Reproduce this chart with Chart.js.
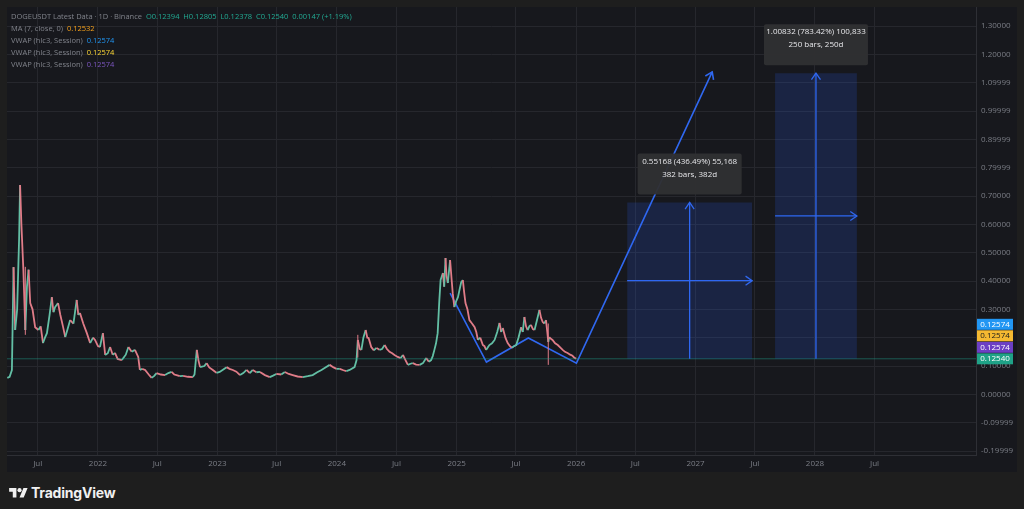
<!DOCTYPE html>
<html>
<head>
<meta charset="utf-8">
<script src="https://cdn.jsdelivr.net/npm/chart.js@4.4.1/dist/chart.umd.min.js"></script>
<style>
  html, body { margin: 0; padding: 0; width: 1024px; height: 509px; overflow: hidden; background: #1e1e1e; font-family: 'Open Sans', 'Noto Sans', sans-serif; }
  #panel { position: absolute; left: 7px; top: 7px; width: 1010px; height: 465px; background: #17181d; }
  #chart { position: absolute; left: 0; top: 0; }
  .legend { position: absolute; left: 4px; top: 3px; font-size: 7.5px; line-height: 12px; color: #80838b; white-space: nowrap; }
  .legend .g { color: #22ab94; }
  .legend .o { color: #f7a21b; }
  .legend .b { color: #2196f3; }
  .legend .y { color: #fdd835; }
  .legend .p { color: #7e57c2; }
  #brand { position: absolute; left: 9px; top: 484px; display: flex; align-items: center; color: #f0f0f0; font-family: 'Inter', 'Roboto', sans-serif; font-weight: 700; font-size: 14px; letter-spacing: -0.2px; }
  #brand svg { margin-right: 3px; }
</style>
</head>
<body>
<div id="panel">
  <canvas id="chart" width="1010" height="465"></canvas>
  <div class="legend">
    <div>DOGEUSDT Latest Data · 1D · Binance &nbsp;<span class="g">O0.12394 &nbsp;H0.12805 &nbsp;L0.12378 &nbsp;C0.12540 &nbsp;0.00147 (+1.19%)</span></div>
    <div>MA (7, close, 0) &nbsp;<span class="o">0.12532</span></div>
    <div>VWAP (hlc3, Session) &nbsp;<span class="b">0.12574</span></div>
    <div>VWAP (hlc3, Session) &nbsp;<span class="y">0.12574</span></div>
    <div>VWAP (hlc3, Session) &nbsp;<span class="p">0.12574</span></div>
  </div>
</div>
<div id="brand">
  <svg width="19" height="13" viewBox="0 0 36 25"><path d="M14 22H7V11H0V4h14v18zM28 22h-8l7.5-18h8L28 22z" fill="#f0f0f0"/><circle cx="20" cy="8" r="4" fill="#f0f0f0"/></svg>
  <span>TradingView</span>
</div>
<script>
// days counted from 2021-01-01
const priceDays = [88, 95, 102, 107, 112, 118, 124, 127, 131, 137, 143, 148, 153, 158, 165, 173, 183, 190, 197, 203,
  209, 217, 224, 229, 234, 243, 250, 258, 265, 272, 280, 290, 300, 305, 310, 320, 331, 341, 350, 356,
  365, 371, 380, 387, 395, 402, 410, 417, 425, 438, 450, 458, 468, 478, 488, 493, 500, 509, 520, 529,
  537, 544, 557, 570, 580, 590, 598, 605, 615, 625, 640, 655, 660, 667, 672, 677, 690, 697, 705, 716,
  727, 737, 748, 758, 767, 777, 788, 799, 809, 819, 829, 838, 849, 860, 875, 890, 900, 910, 925, 936,
  948, 960, 975, 991, 1006, 1021, 1035, 1048, 1060, 1073, 1085, 1094, 1104, 1115, 1124, 1134, 1149, 1155, 1159, 1165,
  1170, 1176, 1183, 1188, 1192, 1200, 1208, 1216, 1225, 1233, 1241, 1248, 1256, 1264, 1271, 1281, 1290, 1297, 1305, 1312,
  1320, 1327, 1337, 1348, 1358, 1368, 1376, 1383, 1388, 1393, 1398, 1403, 1408, 1412, 1419, 1423, 1427, 1430, 1434, 1441,
  1446, 1449, 1454, 1460, 1465, 1470, 1475, 1480, 1484, 1488, 1494, 1500, 1508, 1516, 1521, 1526, 1533, 1541, 1546, 1551,
  1556, 1561, 1569, 1577, 1585, 1592, 1597, 1602, 1610, 1617, 1624, 1630, 1636, 1643, 1650, 1658, 1663, 1668, 1673, 1678,
  1683, 1688, 1694, 1699, 1706, 1714, 1719, 1724, 1729, 1734, 1738, 1741, 1744, 1750, 1754, 1762, 1770, 1778, 1785, 1792,
  1800, 1808, 1815, 1820, 1826];
const priceValues = [0.058, 0.062, 0.086, 0.449, 0.227, 0.30, 0.55, 0.739, 0.60, 0.44, 0.227, 0.38, 0.44, 0.322, 0.30, 0.237, 0.227, 0.24, 0.181, 0.20,
  0.216, 0.28, 0.343, 0.29, 0.308, 0.322, 0.28, 0.24, 0.202, 0.23, 0.262, 0.25, 0.333, 0.28, 0.287, 0.25, 0.216, 0.181, 0.20, 0.192,
  0.17, 0.167, 0.216, 0.139, 0.145, 0.167, 0.14, 0.146, 0.125, 0.121, 0.14, 0.167, 0.15, 0.157, 0.132, 0.086, 0.09, 0.086, 0.07, 0.058,
  0.065, 0.075, 0.07, 0.068, 0.075, 0.079, 0.07, 0.068, 0.064, 0.065, 0.062, 0.061, 0.07, 0.157, 0.12, 0.096, 0.10, 0.11, 0.095, 0.086,
  0.076, 0.079, 0.088, 0.096, 0.09, 0.086, 0.08, 0.068, 0.075, 0.086, 0.075, 0.086, 0.078, 0.079, 0.068, 0.061, 0.066, 0.072, 0.07, 0.079,
  0.072, 0.068, 0.063, 0.061, 0.064, 0.068, 0.078, 0.086, 0.095, 0.104, 0.095, 0.09, 0.09, 0.085, 0.082, 0.086, 0.096, 0.12, 0.192, 0.16,
  0.157, 0.20, 0.227, 0.20, 0.199, 0.167, 0.155, 0.164, 0.157, 0.16, 0.174, 0.16, 0.15, 0.145, 0.139, 0.132, 0.128, 0.139, 0.12, 0.104,
  0.108, 0.11, 0.105, 0.104, 0.11, 0.128, 0.115, 0.121, 0.135, 0.157, 0.18, 0.216, 0.33, 0.404, 0.428, 0.38, 0.481, 0.42, 0.393, 0.474,
  0.40, 0.357, 0.308, 0.33, 0.343, 0.37, 0.396, 0.403, 0.36, 0.322, 0.30, 0.262, 0.25, 0.237, 0.22, 0.192, 0.20, 0.174, 0.17, 0.157,
  0.165, 0.174, 0.18, 0.192, 0.22, 0.252, 0.22, 0.234, 0.20, 0.181, 0.17, 0.164, 0.17, 0.174, 0.20, 0.237, 0.22, 0.273, 0.24, 0.227,
  0.24, 0.245, 0.23, 0.227, 0.26, 0.298, 0.27, 0.255, 0.25, 0.262, 0.22, 0.185, 0.202, 0.195, 0.192, 0.18, 0.174, 0.165, 0.157, 0.15,
  0.146, 0.14, 0.136, 0.13, 0.1254];

// a few long wicks
const wickDays = [143, 1159, 1741];
const wickLows = [0.21, 0.13, 0.104];
const wickHighs = [0.45, 0.21, 0.25];

const lastPrice = 0.1254;

// hand-drawn zigzag projection
const zigDays = [1441, 1552, 1680, 1827, 2242];
const zigValues = [0.357, 0.114, 0.199, 0.110, 1.138];

// date/price range boxes
const boxStartDays = [1982, 2434];
const boxEndDays = [2364, 2684];
const boxLows = [0.1254, 0.1254];
const boxHighs = [0.6771, 1.1337];
const boxLine1 = ['0.55168 (436.49%) 55,168', '1.00832 (783.42%) 100,833'];
const boxLine2 = ['382 bars, 382d', '250 bars, 250d'];

const xTickDays = [181, 365, 546, 730, 911, 1095, 1277, 1461, 1642, 1826, 2007, 2191, 2372, 2556, 2738];
const xTickLabels = ['Jul', '2022', 'Jul', '2023', 'Jul', '2024', 'Jul', '2025', 'Jul', '2026', 'Jul', '2027', 'Jul', '2028', 'Jul'];
const yTickValues = [-0.2, -0.1, 0, 0.1, 0.2, 0.3, 0.4, 0.5, 0.6, 0.7, 0.8, 0.9, 1.0, 1.1, 1.2, 1.3];
const yTickLabels = ['-0.19999', '-0.09999', '0.00000', '0.10000', '0.20000', '0.30000', '0.40000', '0.50000',
  '0.60000', '0.70000', '0.79999', '0.89999', '0.99999', '1.09999', '1.20000', '1.30000'];

const badgeLabels = ['0.12574', '0.12574', '0.12574', '0.12540'];
const badgeColors = ['#2196f3', '#f5b931', '#6c3fc4', '#1fa287'];
const badgeText = ['#ffffff', '#1b1b1b', '#ffffff', '#ffffff'];

const X_MIN = 87, X_MAX = 3048;
const BLUE = '#3068f0';
const UP = '#63bfa5', DOWN = '#e07c88';

const datasets = [];

boxStartDays.forEach((s, i) => {
  datasets.push({
    data: [{ x: s, y: boxHighs[i] }, { x: boxEndDays[i], y: boxHighs[i] }],
    fill: { value: boxLows[i] },
    backgroundColor: 'rgba(41,98,255,0.17)',
    borderWidth: 0, pointRadius: 0
  });
  const mid = (s + boxEndDays[i]) / 2;
  const midY = (boxLows[i] + boxHighs[i]) / 2;
  datasets.push({ data: [{ x: mid, y: boxLows[i] }, { x: mid, y: boxHighs[i] }], borderColor: BLUE, borderWidth: 1.3, pointRadius: 0, arrow: true });
  datasets.push({ data: [{ x: s, y: midY }, { x: boxEndDays[i], y: midY }], borderColor: BLUE, borderWidth: 1.3, pointRadius: 0, arrow: true });
});

datasets.push({
  data: [{ x: X_MIN, y: lastPrice }, { x: X_MAX, y: lastPrice }],
  borderColor: 'rgba(34,171,148,0.45)', borderWidth: 1, pointRadius: 0
});

wickDays.forEach((d, i) => {
  datasets.push({
    data: [{ x: d, y: wickLows[i] }, { x: d, y: wickHighs[i] }],
    borderColor: DOWN, borderWidth: 1, pointRadius: 0
  });
});

datasets.push({
  data: priceDays.map((d, i) => ({ x: d, y: priceValues[i] })),
  borderWidth: 1.8, pointRadius: 0, tension: 0,
  borderColor: UP,
  segment: { borderColor: c => (c.p1.parsed.y >= c.p0.parsed.y ? UP : DOWN) }
});

datasets.push({
  data: zigDays.map((d, i) => ({ x: d, y: zigValues[i] })),
  borderColor: BLUE, borderWidth: 1.6, pointRadius: 0, arrow: true
});

const overlay = {
  id: 'overlay',
  afterDatasetsDraw(chart) {
    const ctx = chart.ctx;
    const xs = chart.scales.x, ys = chart.scales.y;
    // arrow heads
    chart.data.datasets.forEach(ds => {
      if (!ds.arrow) return;
      const n = ds.data.length;
      const a = ds.data[n - 2], b = ds.data[n - 1];
      const x0 = xs.getPixelForValue(a.x), y0 = ys.getPixelForValue(a.y);
      const x1 = xs.getPixelForValue(b.x), y1 = ys.getPixelForValue(b.y);
      const ang = Math.atan2(y1 - y0, x1 - x0);
      const len = 8, spread = 0.6;
      ctx.save();
      ctx.strokeStyle = ds.borderColor;
      ctx.lineWidth = ds.borderWidth;
      ctx.beginPath();
      ctx.moveTo(x1 - len * Math.cos(ang - spread), y1 - len * Math.sin(ang - spread));
      ctx.lineTo(x1, y1);
      ctx.lineTo(x1 - len * Math.cos(ang + spread), y1 - len * Math.sin(ang + spread));
      ctx.stroke();
      ctx.restore();
    });
    // measurement labels
    boxStartDays.forEach((s, i) => {
      const cx = xs.getPixelForValue((s + boxEndDays[i]) / 2);
      const bottom = ys.getPixelForValue(boxHighs[i]) - 8;
      const w = 104, h = 41;
      ctx.save();
      ctx.fillStyle = 'rgba(48,48,50,0.96)';
      ctx.beginPath();
      ctx.roundRect(cx - w / 2, bottom - h, w, h, 2);
      ctx.fill();
      ctx.fillStyle = '#e6e7ea';
      ctx.font = '8px "Open Sans", sans-serif';
      ctx.textAlign = 'center';
      ctx.textBaseline = 'middle';
      ctx.fillText(boxLine1[i], cx, bottom - h + 8);
      ctx.fillText(boxLine2[i], cx, bottom - h + 21);
      ctx.restore();
    });
  },
  afterDraw(chart) {
    const ctx = chart.ctx;
    const ys = chart.scales.y;
    const left = chart.chartArea.right + 1;
    let cy = ys.getPixelForValue(lastPrice);
    ctx.save();
    ctx.font = '8px "Open Sans", sans-serif';
    ctx.textAlign = 'center';
    ctx.textBaseline = 'middle';
    for (let i = badgeLabels.length - 1; i >= 0; i--) {
      ctx.fillStyle = badgeColors[i];
      ctx.fillRect(left, cy - 5.5, 36, 11);
      ctx.fillStyle = badgeText[i];
      ctx.fillText(badgeLabels[i], left + 18, cy);
      cy -= 11.5;
    }
    ctx.restore();
  }
};

function noPad(s) {
  s.paddingTop = 0; s.paddingBottom = 0; s.paddingLeft = 0; s.paddingRight = 0;
}

new Chart(document.getElementById('chart'), {
  type: 'line',
  data: { datasets },
  options: {
    responsive: false,
    animation: false,
    devicePixelRatio: 1,
    layout: { padding: 0 },
    plugins: { legend: { display: false }, tooltip: { enabled: false } },
    scales: {
      x: {
        type: 'linear', min: X_MIN, max: X_MAX,
        afterFit: s => { s.height = 17; noPad(s); },
        afterBuildTicks: s => { s.ticks = xTickDays.map(v => ({ value: v })); },
        grid: { color: '#26272d', drawTicks: false },
        border: { color: '#2e2f35' },
        ticks: {
          autoSkip: false, maxRotation: 0, padding: 4,
          color: '#7b7e86', font: { size: 8, family: 'Open Sans' },
          callback: v => xTickLabels[xTickDays.indexOf(v)]
        }
      },
      y: {
        position: 'right', min: -0.2141, max: 1.3671,
        afterFit: s => { s.width = 41; noPad(s); },
        afterBuildTicks: s => { s.ticks = yTickValues.map(v => ({ value: v })); },
        grid: { color: '#26272d', drawTicks: false },
        border: { color: '#2e2f35' },
        ticks: {
          padding: 5,
          color: '#7b7e86', font: { size: 8, family: 'Open Sans' },
          callback: v => yTickLabels[yTickValues.findIndex(t => Math.abs(t - v) < 1e-9)]
        }
      }
    }
  },
  plugins: [overlay]
});
</script>
</body>
</html>
